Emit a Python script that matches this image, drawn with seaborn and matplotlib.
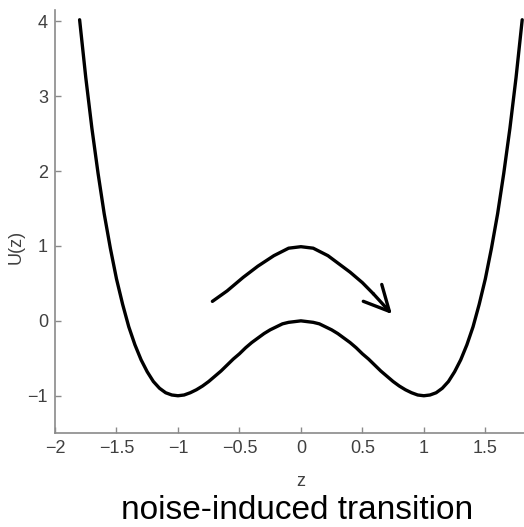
import numpy as np
import pandas as pd
import matplotlib
matplotlib.use("Agg")
import matplotlib.pyplot as plt
import seaborn as sns

# potential curve values
z_vals = [-1.80, -1.75, -1.70, -1.65, -1.60, -1.55, -1.50, -1.45, -1.40, -1.35, -1.30, -1.25,
          -1.20, -1.15, -1.10, -1.05, -1.00, -0.95, -0.90, -0.85, -0.80, -0.75, -0.70, -0.65,
          -0.60, -0.55, -0.50, -0.45, -0.40, -0.35, -0.30, -0.25, -0.20, -0.15, -0.10, -0.05,
          0.00,
          0.05, 0.10, 0.15, 0.20, 0.25, 0.30, 0.35, 0.40, 0.45, 0.50, 0.55, 0.60,
          0.65, 0.70, 0.75, 0.80, 0.85, 0.90, 0.95, 1.00, 1.05, 1.10, 1.15, 1.20,
          1.25, 1.30, 1.35, 1.40, 1.45, 1.50, 1.55, 1.60, 1.65, 1.70, 1.75, 1.80]
u_vals = [4.02, 3.25, 2.57, 1.97, 1.43, 0.97, 0.56, 0.22, -0.08, -0.32, -0.52, -0.68,
          -0.81, -0.90, -0.96, -0.99, -1.00, -0.99, -0.96, -0.92, -0.87, -0.81, -0.74, -0.67,
          -0.59, -0.51, -0.44, -0.36, -0.29, -0.23, -0.17, -0.12, -0.08, -0.04, -0.02, -0.01,
          0.00,
          -0.01, -0.02, -0.04, -0.08, -0.12, -0.17, -0.23, -0.29, -0.36, -0.44, -0.51, -0.59,
          -0.67, -0.74, -0.81, -0.87, -0.92, -0.96, -0.99, -1.00, -0.99, -0.96, -0.90, -0.81,
          -0.68, -0.52, -0.32, -0.08, 0.22, 0.56, 0.97, 1.43, 1.97, 2.57, 3.25, 4.02]

# transition arrow path
arc_z = [-0.72, -0.6, -0.47, -0.35, -0.22, -0.1, 0.0, 0.1, 0.22, 0.4, 0.5, 0.59, 0.74]
arc_u = [0.26, 0.40, 0.58, 0.73, 0.87, 0.97, 0.99, 0.97, 0.87, 0.65, 0.51, 0.36, 0.09]

x_ticks = [-2, -1.5, -1, -0.5, 0, 0.5, 1, 1.5]
x_ticklabels = ["\u22122", "\u22121.5", "\u22121", "\u22120.5", "0", "0.5", "1", "1.5"]
y_ticks = [-1, 0, 1, 2, 3, 4]
y_ticklabels = ["\u22121", "0", "1", "2", "3", "4"]

sns.set_theme(style="ticks")
plt.rcParams["font.family"] = ["Liberation Sans", "DejaVu Sans"]

fig = plt.figure(figsize=(5.24, 5.27), dpi=100)
# axes extend past the right edge (the original picture is cropped at z = 1.8)
ax = fig.add_axes([0.105, 0.178, 0.9385, 0.803])

df = pd.DataFrame({"z": z_vals, "U": u_vals})
sns.lineplot(data=df, x="z", y="U", ax=ax, color="black", linewidth=2.4, sort=False)

ax.plot(arc_z[:-1], arc_u[:-1], color="black", linewidth=2.4, solid_capstyle="round")
ax.annotate("", xy=(arc_z[-1], arc_u[-1]), xytext=(arc_z[-2], arc_u[-2]),
            arrowprops=dict(arrowstyle="->,head_length=0.9,head_width=0.45", lw=2.4,
                            color="black", mutation_scale=20, shrinkA=0, shrinkB=0))

ax.set_xlim(-2, 2)
ax.set_ylim(-1.5, 4.15)
ax.set_xticks(x_ticks)
ax.set_xticklabels(x_ticklabels)
ax.set_yticks(y_ticks)
ax.set_yticklabels(y_ticklabels)

grey = "#8a8a8a"
for s in ["top", "right"]:
    ax.spines[s].set_visible(False)
for s in ["left", "bottom"]:
    ax.spines[s].set_color(grey)
    ax.spines[s].set_linewidth(1.2)
ax.tick_params(axis="both", direction="in", length=4, width=1.0, color=grey,
               labelcolor="#404040", labelsize=13, pad=5)

ax.set_xlabel("z", fontsize=13, color="#404040")
ax.xaxis.set_label_coords(0.5, -0.095)
ax.set_ylabel("U(z)", fontsize=13, color="#404040")
ax.yaxis.set_label_coords(-0.062, 0.44)

fig.text(0.566, 0.016, "noise-induced transition", ha="center", va="baseline",
         fontsize=24, color="black")

fig.savefig("out.png", dpi=100)
